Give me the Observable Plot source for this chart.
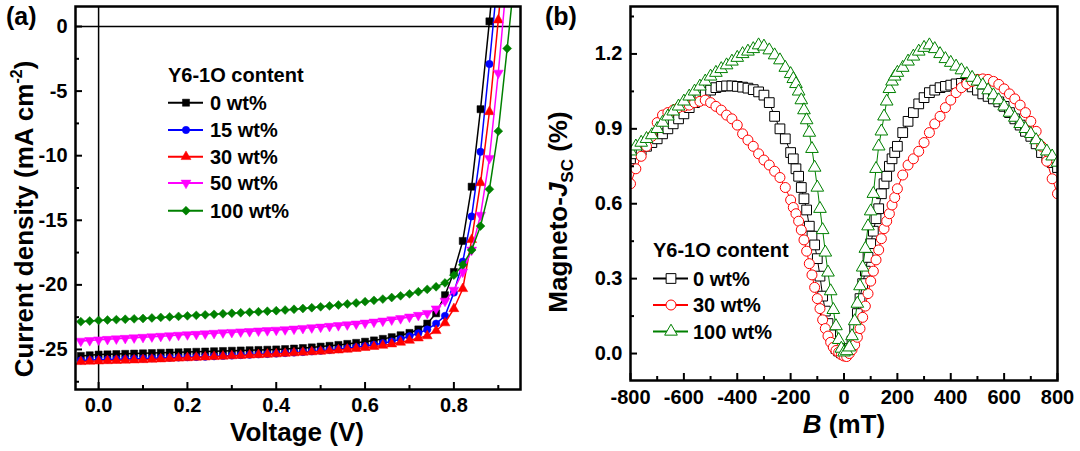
<!DOCTYPE html>
<html><head><meta charset="utf-8">
<script src="https://cdn.jsdelivr.net/npm/d3@7"></script>
<script src="https://cdn.jsdelivr.net/npm/@observablehq/plot@0.6"></script>
<style>
body{margin:0;background:#fff;}
#wrap{position:relative;width:1080px;height:451px;overflow:hidden;font-family:"Liberation Sans",Arial,sans-serif;font-weight:bold;background:#fff;}
#pa,#pb{position:absolute;top:0;}
#pa{left:0}#pb{left:540px}
#ov{position:absolute;left:0;top:0;}
#pa svg text,#pb svg text{font-size:20px !important;font-weight:bold !important;font-family:"Liberation Sans",Arial,sans-serif !important;}
</style></head><body>
<div id="wrap"><div id="pa"></div><div id="pb"></div><svg id="ov" width="1080" height="451"></svg></div>
<script>
// ---------- Panel (a): J-V curves ----------
const voltage = [-0.04,-0.02,0,0.02,0.04,0.06,0.08,0.10,0.12,0.14,0.16,0.18,0.20,0.22,0.24,0.26,0.28,0.30,0.32,0.34,0.36,0.38,0.40,0.42,0.44,0.46,0.48,0.50,0.52,0.54,0.56,0.58,0.60,0.62,0.64,0.66,0.68,0.70,0.72,0.74,0.76,0.78,0.80,0.82,0.84,0.86,0.88,0.90,0.92,0.94];
const j_0wt = [-25.5,-25.45,-25.4,-25.38,-25.36,-25.34,-25.32,-25.3,-25.28,-25.26,-25.24,-25.22,-25.2,-25.18,-25.16,-25.14,-25.12,-25.1,-25.08,-25.06,-25.04,-25.02,-25.0,-24.97,-24.93,-24.89,-24.84,-24.78,-24.72,-24.65,-24.57,-24.49,-24.4,-24.3,-24.18,-24.05,-23.9,-23.72,-23.45,-23.0,-22.2,-20.8,-19.0,-16.6,-12.4,-6.4,0.4,8.0];
const j_15wt = [-25.85,-25.82,-25.8,-25.78,-25.76,-25.74,-25.72,-25.7,-25.68,-25.66,-25.64,-25.62,-25.6,-25.58,-25.56,-25.53,-25.5,-25.47,-25.44,-25.41,-25.38,-25.35,-25.32,-25.28,-25.24,-25.2,-25.15,-25.1,-25.04,-24.98,-24.91,-24.83,-24.74,-24.64,-24.52,-24.38,-24.2,-23.98,-23.75,-23.45,-23.0,-22.4,-20.6,-18.2,-14.7,-9.7,-2.9,4.3];
const j_30wt = [-25.95,-25.92,-25.9,-25.88,-25.86,-25.84,-25.82,-25.8,-25.77,-25.74,-25.71,-25.68,-25.65,-25.62,-25.59,-25.56,-25.53,-25.5,-25.47,-25.44,-25.41,-25.38,-25.35,-25.31,-25.27,-25.23,-25.19,-25.15,-25.1,-25.05,-24.99,-24.93,-24.86,-24.78,-24.69,-24.58,-24.45,-24.3,-24.12,-23.95,-23.55,-22.95,-21.85,-20.3,-16.5,-12.1,-6.6,0.5,8.0];
const j_50wt = [-24.35,-24.3,-24.25,-24.21,-24.17,-24.13,-24.09,-24.05,-24.01,-23.97,-23.93,-23.89,-23.85,-23.82,-23.78,-23.74,-23.7,-23.67,-23.63,-23.6,-23.56,-23.53,-23.5,-23.46,-23.41,-23.36,-23.31,-23.26,-23.2,-23.14,-23.08,-23.02,-22.95,-22.87,-22.79,-22.7,-22.6,-22.48,-22.35,-22.2,-21.85,-21.25,-20.4,-19.0,-17.3,-14.6,-10.2,-3.6,4.0];
const j_100wt = [-22.85,-22.8,-22.75,-22.72,-22.69,-22.66,-22.63,-22.6,-22.56,-22.52,-22.48,-22.44,-22.4,-22.36,-22.32,-22.28,-22.24,-22.2,-22.16,-22.12,-22.08,-22.04,-22.0,-21.95,-21.89,-21.83,-21.77,-21.7,-21.63,-21.56,-21.48,-21.4,-21.3,-21.2,-21.1,-20.98,-20.85,-20.7,-20.53,-20.35,-20.15,-19.85,-19.25,-18.45,-17.3,-15.45,-12.6,-8.1,-1.7,5.0];
const labelsA = ["0 wt%","15 wt%","30 wt%","50 wt%","100 wt%"];
const ticksAx = [0,0.2,0.4,0.6,0.8];
const minorAx = [0.1,0.3,0.5,0.7,0.9];
const ticksAy = [-25,-20,-15,-10,-5,0];
const minorAy = [-27.5,-22.5,-17.5,-12.5,-7.5,-2.5];

// ---------- Panel (b): magneto-Jsc ----------
const field = [-800,-780,-760,-740,-720,-700,-680,-660,-640,-620,-600,-580,-560,-540,-520,-500,-480,-460,-440,-420,-400,-380,-360,-340,-320,-300,-280,-260,-240,-220,
-200,-190,-180,-170,-160,-150,-140,-130,-120,-110,-100,-90,-80,-70,-60,-50,-40,-30,-20,-10,0,10,20,30,40,50,60,70,80,90,100,110,120,130,140,150,160,170,180,190,200,
220,240,260,280,300,320,340,360,380,400,420,440,460,480,500,520,540,560,580,600,620,640,660,680,700,720,740,760,780,800];
const mj_0wt = [0.78,0.8,0.815,0.83,0.845,0.86,0.88,0.9,0.92,0.94,0.96,0.985,1.005,1.025,1.045,1.055,1.065,1.07,1.072,1.072,1.07,1.067,1.063,1.057,1.048,1.035,1.005,0.95,0.9,0.86,
0.805,0.78,0.74,0.71,0.665,0.62,0.575,0.51,0.47,0.435,0.38,0.31,0.23,0.17,0.12,0.075,0.04,0.02,0.01,0.003,0.0,0.005,0.02,0.05,0.1,0.16,0.22,0.28,0.33,0.385,0.44,0.49,0.54,0.58,0.64,0.68,0.71,0.75,0.78,0.805,0.83,
0.885,0.93,0.965,1.0,1.025,1.045,1.055,1.065,1.07,1.075,1.08,1.082,1.078,1.068,1.055,1.04,1.03,1.02,1.008,0.99,0.965,0.94,0.915,0.89,0.87,0.84,0.805,0.785,0.765,0.745];
const mj_30wt = [0.68,0.74,0.79,0.83,0.87,0.925,0.955,0.965,0.975,0.985,0.99,0.995,1.005,1.01,1.015,1.005,0.99,0.975,0.955,0.94,0.915,0.88,0.855,0.83,0.8,0.775,0.755,0.73,0.705,0.665,
0.615,0.585,0.56,0.53,0.495,0.455,0.41,0.36,0.315,0.265,0.22,0.18,0.135,0.1,0.07,0.045,0.025,0.012,0.005,-0.005,-0.01,-0.012,0.0,0.015,0.035,0.065,0.1,0.145,0.19,0.24,0.29,0.33,0.375,0.415,0.46,0.5,0.53,0.56,0.595,0.625,0.66,
0.715,0.755,0.78,0.81,0.845,0.885,0.92,0.95,0.985,1.015,1.045,1.065,1.08,1.09,1.098,1.1,1.098,1.09,1.078,1.06,1.04,1.02,0.995,0.965,0.93,0.89,0.83,0.77,0.7,0.64];
const mj_100wt = [0.81,0.83,0.845,0.86,0.875,0.9,0.925,0.95,0.97,0.99,1.01,1.03,1.05,1.07,1.09,1.11,1.125,1.14,1.155,1.17,1.185,1.2,1.21,1.22,1.235,1.23,1.215,1.195,1.175,1.145,
1.12,1.1,1.08,1.05,1.015,0.975,0.935,0.885,0.82,0.745,0.665,0.58,0.495,0.405,0.325,0.25,0.175,0.11,0.055,0.02,0.005,0.01,0.025,0.07,0.13,0.2,0.27,0.345,0.42,0.51,0.57,0.64,0.74,0.83,0.89,0.95,1.01,1.06,1.09,1.11,1.125,
1.145,1.17,1.19,1.21,1.225,1.235,1.22,1.2,1.18,1.165,1.15,1.135,1.12,1.105,1.09,1.075,1.055,1.035,1.015,0.99,0.965,0.945,0.92,0.9,0.88,0.855,0.83,0.81,0.79,0.765];
const labelsB = ["0 wt%","30 wt%","100 wt%"];
const ticksBx = [-800,-600,-400,-200,0,200,400,600,800];
const minorBx = [-700,-500,-300,-100,100,300,500,700];
const ticksBy = [0,0.3,0.6,0.9,1.2];
const minorBy = [0.15,0.45,0.75,1.05,1.35];

// ---------- helpers ----------
const sqrt3 = Math.sqrt(3);
const triangleDown = {draw(ctx, size){ const y = -Math.sqrt(size/(sqrt3*3)); ctx.moveTo(0,-y*2); ctx.lineTo(-sqrt3*y, y); ctx.lineTo(sqrt3*y, y); ctx.closePath(); }};
const FONT = '"Liberation Sans", Arial, sans-serif';

const styleA = [
  {color:"#000000", symbol:"square", r:4},
  {color:"#0000ff", symbol:"circle", r:3.7},
  {color:"#ff0000", symbol:"triangle", r:3.7},
  {color:"#ff00ff", symbol:triangleDown, r:3.7},
  {color:"#008000", symbol:"diamond2", r:4}
];
const seriesAvals = [j_0wt, j_15wt, j_30wt, j_50wt, j_100wt];
const styleB = [
  {color:"#000000", symbol:"square", r:5.5},
  {color:"#ff0000", symbol:"circle", r:5},
  {color:"#008000", symbol:"triangle", r:4.7}
];
const seriesBvals = [mj_0wt, mj_30wt, mj_100wt];

const txtStyle = {fontSize:20, fontWeight:"bold", fill:"black", label:null, tickSize:0, tickPadding:8};

function inwardTicks(W, H, m, xs, xm, ys, ym) {
  const fw = W - m.left - m.right, fh = H - m.top - m.bottom;
  return [
    Plot.tickX(xs, {x: d => d, insetTop: fh - 7, stroke: "black", strokeWidth: 2}),
    Plot.tickX(xm, {x: d => d, insetTop: fh - 4, stroke: "black", strokeWidth: 2}),
    Plot.tickY(ys, {y: d => d, insetRight: fw - 7, stroke: "black", strokeWidth: 2}),
    Plot.tickY(ym, {y: d => d, insetRight: fw - 4, stroke: "black", strokeWidth: 2})
  ];
}

// ---------- Plot (a) ----------
const mA = {left:75, right:20, top:6, bottom:62};
const marksA = [
  Plot.ruleX([0], {stroke:"black", strokeWidth:1.5}),
  Plot.ruleY([0], {stroke:"black", strokeWidth:1.5})
];
seriesAvals.forEach((vals, k) => {
  const rows = vals.map((J, i) => ({V: voltage[i], J}));
  const s = styleA[k];
  marksA.push(Plot.line(rows, {x:"V", y:"J", stroke:s.color, strokeWidth:1.5, clip:true}));
  marksA.push(Plot.dot(rows, {x:"V", y:"J", symbol:s.symbol, r:s.r, fill:s.color, stroke:s.color, strokeWidth:0.5, clip:true}));
});
marksA.push(
  ...inwardTicks(540, 451, mA, ticksAx, minorAx, ticksAy, minorAy),
  Plot.axisY({...txtStyle, ticks:ticksAy, anchor:"left", tickFormat:d => String(d)}),
  Plot.axisX({...txtStyle, ticks:ticksAx, anchor:"bottom", tickFormat:d => d.toFixed(1)}),
  Plot.frame({stroke:"black", strokeWidth:2.5})
);
const plotA = Plot.plot({
  width:540, height:451, marginLeft:mA.left, marginRight:mA.right, marginTop:mA.top, marginBottom:mA.bottom,
  x:{domain:[-0.052, 0.95]}, y:{domain:[-28.1, 1.55]},
  style:{fontFamily:FONT, fontWeight:"bold", fontSize:"20px", color:"black", background:"white"},
  marks: marksA
});
document.getElementById("pa").appendChild(plotA);

// ---------- Plot (b) ----------
const mB = {left:90, right:23, top:6, bottom:71};
const marksB = [];
seriesBvals.forEach((vals, k) => {
  const rows = vals.map((M, i) => ({B: field[i], M}));
  const s = styleB[k];
  marksB.push(Plot.line(rows, {x:"B", y:"M", stroke:s.color, strokeWidth:1, clip:true}));
  marksB.push(Plot.dot(rows, {x:"B", y:"M", symbol:s.symbol, r:s.r, fill:"white", stroke:s.color, strokeWidth:1, clip:true}));
});
marksB.push(
  ...inwardTicks(540, 451, mB, ticksBx, minorBx, ticksBy, minorBy),
  Plot.axisY({...txtStyle, ticks:ticksBy, anchor:"left", tickFormat:d => d.toFixed(1)}),
  Plot.axisX({...txtStyle, ticks:ticksBx, anchor:"bottom", tickPadding:9, tickFormat:d => String(d)}),
  Plot.frame({stroke:"black", strokeWidth:2.5})
);
const plotB = Plot.plot({
  width:540, height:451, marginLeft:mB.left, marginRight:mB.right, marginTop:mB.top, marginBottom:mB.bottom,
  x:{domain:[-800, 800]}, y:{domain:[-0.108, 1.39]},
  style:{fontFamily:FONT, fontWeight:"bold", fontSize:"20px", color:"black", background:"white"},
  marks: marksB
});
document.getElementById("pb").appendChild(plotB);

// ---------- overlay: panel letters, axis titles, legends ----------
const ov = d3.select("#ov").attr("font-family", FONT).attr("font-weight", "bold").attr("fill", "black");
ov.append("text").attr("x", 6).attr("y", 25).attr("font-size", 25).text("(a)");
ov.append("text").attr("x", 545).attr("y", 25).attr("font-size", 25).text("(b)");

const ya = ov.append("text").attr("transform", "translate(33,219) rotate(-90)").attr("text-anchor", "middle").attr("font-size", 26);
ya.append("tspan").text("Current density (mA cm");
ya.append("tspan").attr("dy", -11).attr("font-size", 16).text("-2");
ya.append("tspan").attr("dy", 11).text(")");
ov.append("text").attr("x", 297).attr("y", 441).attr("text-anchor", "middle").attr("font-size", 26).text("Voltage (V)");

const yb = ov.append("text").attr("transform", "translate(567,212) rotate(-90)").attr("text-anchor", "middle").attr("font-size", 26);
yb.append("tspan").text("Magneto-");
yb.append("tspan").attr("font-style", "italic").text("J");
yb.append("tspan").attr("dy", 6).attr("font-size", 17).text("SC");
yb.append("tspan").attr("dy", -6).text("  (%)");
const xb = ov.append("text").attr("x", 844).attr("y", 433).attr("text-anchor", "middle").attr("font-size", 26);
xb.append("tspan").attr("font-style", "italic").text("B");
xb.append("tspan").text(" (mT)");

ov.append("text").attr("x", 168).attr("y", 82).attr("font-size", 20).text("Y6-1O content");
const rowYa = [102.7, 130, 156.7, 183, 210.7];
labelsA.forEach((lab, k) => {
  const s = styleA[k], cy = rowYa[k];
  ov.append("line").attr("x1", 168).attr("x2", 203).attr("y1", cy).attr("y2", cy).attr("stroke", s.color).attr("stroke-width", 2);
  const sym = typeof s.symbol === "string" ? {square:d3.symbolSquare, circle:d3.symbolCircle, triangle:d3.symbolTriangle, diamond2:d3.symbolDiamond2}[s.symbol] : s.symbol;
  ov.append("path").attr("transform", `translate(186,${cy})`).attr("d", d3.symbol(sym, Math.PI * s.r * s.r)()).attr("fill", s.color).attr("stroke", s.color).attr("stroke-width", 0.5);
  ov.append("text").attr("x", 210).attr("y", cy + 7).attr("font-size", 20).text(lab);
});

ov.append("text").attr("x", 653).attr("y", 257).attr("font-size", 20).text("Y6-1O content");
const rowYb = [278.5, 305, 331.5];
labelsB.forEach((lab, k) => {
  const s = styleB[k], cy = rowYb[k];
  ov.append("line").attr("x1", 653).attr("x2", 688).attr("y1", cy).attr("y2", cy).attr("stroke", s.color).attr("stroke-width", 2);
  const sym = {square:d3.symbolSquare, circle:d3.symbolCircle, triangle:d3.symbolTriangle}[s.symbol];
  ov.append("path").attr("transform", `translate(671,${cy})`).attr("d", d3.symbol(sym, Math.PI * s.r * s.r)()).attr("fill", "white").attr("stroke", s.color).attr("stroke-width", 1);
  ov.append("text").attr("x", 693).attr("y", cy + 7).attr("font-size", 20).text(lab);
});
</script>
</body></html>
